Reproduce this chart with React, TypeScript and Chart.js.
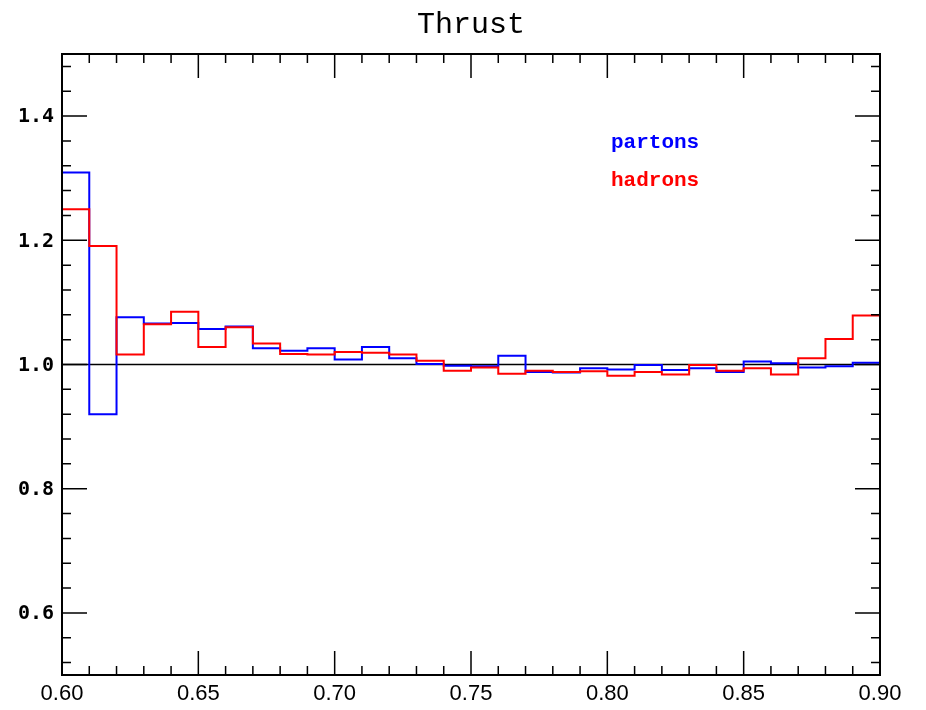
import { useEffect, useRef } from "react";
import { Chart, registerables } from "chart.js";

Chart.register(...registerables);

const binEdges = [
  0.6, 0.61, 0.62, 0.63, 0.64, 0.65, 0.66, 0.67, 0.68, 0.69, 0.7, 0.71, 0.72, 0.73, 0.74, 0.75,
  0.76, 0.77, 0.78, 0.79, 0.8, 0.81, 0.82, 0.83, 0.84, 0.85, 0.86, 0.87, 0.88, 0.89, 0.9,
];
const partons = [
  1.309, 0.92, 1.076, 1.066, 1.067, 1.057, 1.061, 1.026, 1.022, 1.026, 1.008, 1.028, 1.01, 1.001,
  0.998, 0.997, 1.014, 0.988, 0.987, 0.994, 0.992, 0.999, 0.991, 0.994, 0.988, 1.005, 1.002, 0.995,
  0.997, 1.003,
];
const hadrons = [
  1.25, 1.191, 1.016, 1.065, 1.085, 1.028, 1.06, 1.034, 1.017, 1.016, 1.02, 1.019, 1.016, 1.006,
  0.99, 0.995, 0.985, 0.99, 0.988, 0.989, 0.982, 0.988, 0.984, 0.999, 0.99, 0.994, 0.984, 1.01,
  1.041, 1.079,
];
const referenceLevel = 1.0;
const xMajorTicks = [0.6, 0.65, 0.7, 0.75, 0.8, 0.85, 0.9];
const xTickLabels = ["0.60", "0.65", "0.70", "0.75", "0.80", "0.85", "0.90"];
const yMajorTicks = [0.6, 0.8, 1.0, 1.2, 1.4];
const yTickLabels = ["0.6", "0.8", "1.0", "1.2", "1.4"];
const yMinorTicks = [
  0.52, 0.56, 0.6, 0.64, 0.68, 0.72, 0.76, 0.8, 0.84, 0.88, 0.92, 0.96, 1.0, 1.04, 1.08, 1.12,
  1.16, 1.2, 1.24, 1.28, 1.32, 1.36, 1.4, 1.44, 1.48,
];
const titleText = "Thrust";
const seriesNames = ["partons", "hadrons"];

function histPoints(values: number[]) {
  return binEdges.map((x, i) => ({ x, y: values[Math.min(i, values.length - 1)] }));
}

const framePlugin = {
  id: "frameDecor",
  afterDraw(chart: any) {
    const { ctx, chartArea } = chart;
    const { left, right, top, bottom } = chartArea;
    const xs = chart.scales.x;
    const ys = chart.scales.y;
    ctx.save();
    ctx.strokeStyle = "#000";
    ctx.lineWidth = 2;
    ctx.strokeRect(left, top, right - left, bottom - top);

    ctx.lineWidth = 1.5;
    ctx.beginPath();
    binEdges.forEach((v) => {
      const px = xs.getPixelForValue(v);
      const major = xMajorTicks.some((m) => Math.abs(m - v) < 1e-6);
      const len = major ? 24 : 9;
      ctx.moveTo(px, bottom);
      ctx.lineTo(px, bottom - len);
      ctx.moveTo(px, top);
      ctx.lineTo(px, top + len);
    });
    yMinorTicks.forEach((v) => {
      const py = ys.getPixelForValue(v);
      const major = yMajorTicks.some((m) => Math.abs(m - v) < 1e-6);
      const len = major ? 25 : 9;
      ctx.moveTo(left, py);
      ctx.lineTo(left + len, py);
      ctx.moveTo(right, py);
      ctx.lineTo(right - len, py);
    });
    ctx.stroke();

    ctx.fillStyle = "#000";
    ctx.font = "22px 'Liberation Sans', Arial, sans-serif";
    ctx.textAlign = "center";
    ctx.textBaseline = "middle";
    xMajorTicks.forEach((v, i) => {
      ctx.fillText(xTickLabels[i], xs.getPixelForValue(v), bottom + 19);
    });

    ctx.font = "bold 20px 'DejaVu Sans Mono', monospace";
    ctx.textAlign = "right";
    yMajorTicks.forEach((v, i) => {
      ctx.fillText(yTickLabels[i], left - 8, ys.getPixelForValue(v) + 1);
    });

    ctx.font = "30px 'Liberation Mono', 'Courier New', monospace";
    ctx.textAlign = "center";
    ctx.textBaseline = "middle";
    ctx.fillText(titleText, (left + right) / 2, 17);

    ctx.font = "bold 21px 'Liberation Mono', 'Courier New', monospace";
    ctx.textAlign = "left";
    ctx.textBaseline = "alphabetic";
    ctx.fillStyle = "#0000ff";
    ctx.fillText(seriesNames[0], left + 549, top + 94);
    ctx.fillStyle = "#ff0000";
    ctx.fillText(seriesNames[1], left + 549, top + 132);
    ctx.restore();
  },
};

export default function App() {
  const canvasRef = useRef<HTMLCanvasElement | null>(null);

  useEffect(() => {
    if (!canvasRef.current) return;
    const chart = new Chart(canvasRef.current, {
      type: "line",
      data: {
        datasets: [
          {
            label: seriesNames[1],
            data: histPoints(hadrons),
            borderColor: "#ff0000",
            borderWidth: 2,
            pointRadius: 0,
            stepped: "before",
            fill: false,
            order: 0,
          },
          {
            label: seriesNames[0],
            data: histPoints(partons),
            borderColor: "#0000ff",
            borderWidth: 2,
            pointRadius: 0,
            stepped: "before",
            fill: false,
            order: 1,
          },
          {
            label: "reference",
            data: [
              { x: binEdges[0], y: referenceLevel },
              { x: binEdges[binEdges.length - 1], y: referenceLevel },
            ],
            borderColor: "#000000",
            borderWidth: 1.5,
            pointRadius: 0,
            fill: false,
            order: 2,
          },
        ],
      },
      options: {
        animation: false,
        responsive: true,
        maintainAspectRatio: false,
        layout: { padding: { left: 54, right: 38, top: 46, bottom: 27 } },
        plugins: {
          legend: { display: false },
          title: { display: false },
          tooltip: { enabled: false },
        },
        scales: {
          x: { type: "linear", min: 0.6, max: 0.9, display: false },
          y: { type: "linear", min: 0.5, max: 1.5, display: false },
        },
      },
      plugins: [framePlugin],
    });
    return () => chart.destroy();
  }, []);

  return (
    <div style={{ width: 910, height: 694, position: "relative" }}>
      <canvas ref={canvasRef} />
    </div>
  );
}
